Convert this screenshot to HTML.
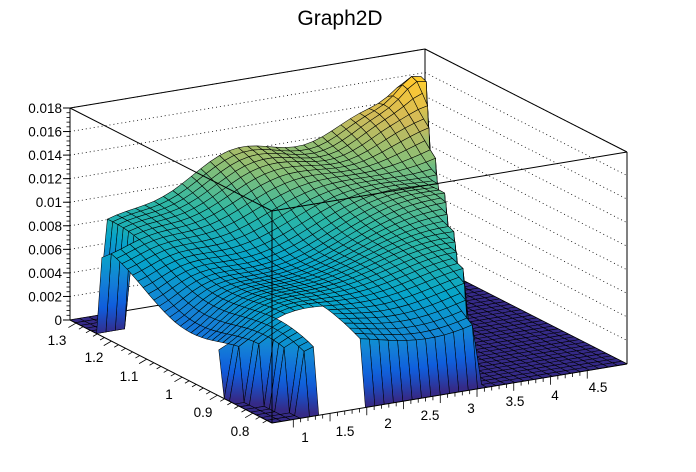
<!DOCTYPE html>
<html><head><meta charset="utf-8"><style>
html,body{margin:0;padding:0;background:#fff}
svg{display:block;font-family:"Liberation Sans",sans-serif}
</style></head><body>
<svg id="s" width="696" height="472" viewBox="0 0 696 472" xmlns="http://www.w3.org/2000/svg">
<defs id="d"></defs>
<rect width="696" height="472" fill="#fff"/>
<text x="340" y="25" font-size="21" text-anchor="middle">Graph2D</text>
<g id="back" fill="none" stroke="#000" stroke-width="1"></g>
<g id="surf" stroke="#000" stroke-width="0.55" stroke-linejoin="round"></g>
<g id="front" fill="none" stroke="#000" stroke-width="1"></g>
<g id="lab" font-size="13.5" fill="#000"></g>
</svg>
<script>
var NS="http://www.w3.org/2000/svg";
function el(p,t,a){var e=document.createElementNS(NS,t);for(var k in a)e.setAttribute(k,a[k]);p.appendChild(e);return e;}
var O=[272,423],U=[355,-59],V=[-202,-103],W=212,ZMAX=0.018;
function P(u,v,z){return [O[0]+u*U[0]+v*V[0], O[1]+u*U[1]+v*V[1]-z/ZMAX*W];}
var back=document.getElementById('back'),front=document.getElementById('front'),lab=document.getElementById('lab'),surf=document.getElementById('surf'),defs=document.getElementById('d');
function line(g,a,b,extra){var o={x1:a[0],y1:a[1],x2:b[0],y2:b[1]};for(var k in extra)o[k]=extra[k];return el(g,'line',o);}
line(back,P(0,1,0),P(0,1,ZMAX));line(back,P(1,1,0),P(1,1,ZMAX));line(back,P(1,0,0),P(1,0,ZMAX));
line(back,P(0,1,ZMAX),P(1,1,ZMAX));line(back,P(1,1,ZMAX),P(1,0,ZMAX));
line(back,P(0,1,0),P(1,1,0));line(back,P(1,1,0),P(1,0,0));
for(var i=1;i<=9;i++){var z=i*0.002;
 el(back,'polyline',{points:[P(0,1,z),P(1,1,z),P(1,0,z)].map(function(p){return p.join(',')}).join(' '),'stroke-dasharray':'1,3','stroke-width':'0.8'});}
var st=[[0,[53,42,135]],[0.125,[15,92,221]],[0.25,[20,129,214]],[0.375,[6,164,202]],[0.5,[46,183,164]],[0.625,[135,191,119]],[0.75,[209,187,89]],[0.875,[254,200,50]],[1,[249,251,14]]];
function col(t){t=Math.max(0,Math.min(1,t));for(var i=1;i<st.length;i++){if(t<=st[i][0]){var a=st[i-1],b=st[i],f=(t-a[0])/(b[0]-a[0]);return 'rgb('+[0,1,2].map(function(k){return Math.round(a[1][k]+(b[1][k]-a[1][k])*f)}).join(',')+')';}}return 'rgb(249,251,14)';}
function inDom(u,v){
 if(v<0.02) return false;
 if(v<0.26*(1-u/0.11)) return false;
 if(u<0.09 && v>0.86) return false;
 return u<0.57+0.43*v;}
function skip(uc,vc){
 if(uc>0.13&&uc<0.27&&vc<0.2) return true;
 if(uc<0.027&&vc>0.27&&vc<0.84) return true;
 return false;}
function g2(u,v,cu,cv,s){return Math.exp(-((u-cu)*(u-cu)+(v-cv)*(v-cv))/s);}
function H(u,v){if(!inDom(u,v))return 0;
 var h=0.0045+0.0032*v+0.0022*u+0.0035*u*v
 +0.0007*Math.sin(10*u+3*v)+0.0006*Math.sin(8*v-4*u+1)+0.0004*Math.sin(17*u*v)
 +0.0008*g2(u,v,0.4,0.85,0.03)
 +0.0025*g2(u,v,0.85,0.9,0.03)
 +0.0025*g2(u,v,0.96,0.97,0.004)
 -0.0028*Math.exp(-u*u/0.015)*(0.4+0.6*Math.exp(-(v-0.5)*(v-0.5)/0.08));
 return Math.max(0.0005,h);}
var N=38,quads=[];
for(var i=0;i<N;i++)for(var j=0;j<N;j++){
 var u0=i/N,u1=(i+1)/N,v0=j/N,v1=(j+1)/N,uc=(u0+u1)/2,vc=(v0+v1)/2;
 if(skip(uc,vc))continue;
 quads.push({c:[[u0,v0],[u1,v0],[u1,v1],[u0,v1]],d:uc+vc});}
quads.sort(function(a,b){return b.d-a.d});
var gid=0;
quads.forEach(function(q){
 var pts=q.c.map(function(c){var z=H(c[0],c[1]);var p=P(c[0],c[1],z);return {p:p,z:z};});
 var zs=pts.map(function(o){return o.z}),zmax=Math.max.apply(null,zs),zmin=Math.min.apply(null,zs);
 var fill;
 if(zmax-zmin>0.0015){
  var top=pts[zs.indexOf(zmax)].p;
  var id='g'+(gid++);
  var g=el(defs,'linearGradient',{id:id,gradientUnits:'userSpaceOnUse',x1:top[0],y1:top[1],x2:top[0],y2:top[1]+(zmax-zmin)/ZMAX*W});
  for(var k=0;k<=6;k++){var f=k/6;el(g,'stop',{offset:f,'stop-color':col((zmax-(zmax-zmin)*f)/ZMAX)});}
  fill='url(#'+id+')';
 } else fill=col((zs[0]+zs[1]+zs[2]+zs[3])/4/ZMAX);
 el(surf,'polygon',{points:pts.map(function(o){return o.p[0].toFixed(1)+','+o.p[1].toFixed(1)}).join(' '),fill:fill});
});
line(front,P(0,1,ZMAX),P(0,0,ZMAX));line(front,P(0,0,ZMAX),P(1,0,ZMAX));line(front,P(0,0,0),P(0,0,ZMAX));
line(front,P(0,1,0),P(0,0,0));line(front,P(0,0,0),P(1,0,0));
for(var i=0;i<=9;i++){var z=i*0.002,p=P(0,1,z);line(front,[p[0]-7,p[1]],p);
 el(lab,'text',{x:62,y:p[1]+5,'text-anchor':'end'}).textContent=(i==0?'0':(+z.toFixed(3)).toString());}
for(var i=0;i<45;i++){var p=P(0,1,i*0.0004);line(front,[p[0]-3.5,p[1]],p,{'stroke-width':0.8});}
var xl=[['1',305,442],['1.5',345,436],['2',388,428],['2.5',430,420],['3',471,413],['3.5',515,406],['4',555,400],['4.5',598,392]];
xl.forEach(function(a){el(lab,'text',{x:a[1],y:a[2],'text-anchor':'middle'}).textContent=a[0];});
for(var i=0;i<=40;i++){var u=0.06+i*0.0207;if(u>1)break;var p=P(u,0,0);var L=(i%5==0)?8:4;line(front,p,[p[0],p[1]+L],{'stroke-width':0.8});}
var yl=[['1.3',57,345],['1.2',94,362],['1.1',129,381],['1',169,399],['0.9',203,417],['0.8',240,436]];
yl.forEach(function(a){el(lab,'text',{x:a[1],y:a[2],'text-anchor':'middle'}).textContent=a[0];});
for(var i=0;i<=28;i++){var v=0.97-i*0.035;if(v<0)break;var p=P(0,v,0);var L=(i%5==0)?9:5;line(front,p,[p[0]-L*0.85,p[1]+L*0.5],{'stroke-width':0.8});}
</script>
</body></html>
